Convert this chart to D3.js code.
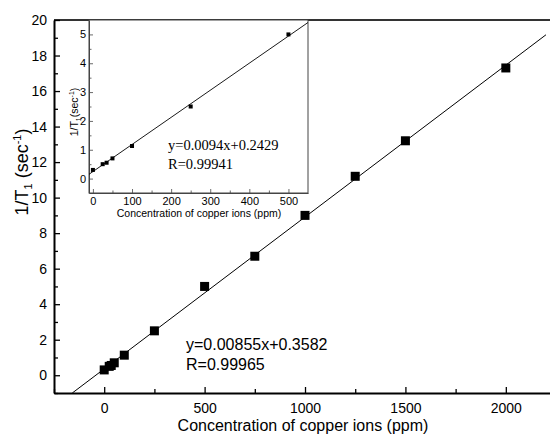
<!DOCTYPE html>
<html><head><meta charset="utf-8">
<script src="https://cdn.jsdelivr.net/npm/d3@7"></script>
<style>body{margin:0;background:#fff}svg{display:block}</style>
</head><body><svg id="c" width="550" height="440"></svg>
<script>
// main data
const mainX = [0, 25, 35, 50, 100, 250, 500, 750, 1000, 1250, 1500, 2000];
const mainY = [0.3, 0.5, 0.55, 0.7, 1.13, 2.5, 5.0, 6.7, 9.0, 11.2, 13.2, 17.3];
const mainFit = [0.00855, 0.3582];
const mainFitX = [-159, 2200];
const mainXTicks = [0, 500, 1000, 1500, 2000];
const mainYTicks = [0, 2, 4, 6, 8, 10, 12, 14, 16, 18, 20];
// inset data
const insetX = [0, 25, 35, 50, 100, 250, 500];
const insetY = [0.3, 0.5, 0.55, 0.7, 1.13, 2.5, 5.0];
const insetFit = [0.0094, 0.2429];
const insetFitX = [-10, 550];
const insetXTicks = [0, 100, 200, 300, 400, 500];
const insetYTicks = [0, 1, 2, 3, 4, 5];

const svg = d3.select("#c");
const SANS = "'Liberation Sans', Arial, sans-serif";
const SERIF = "'Liberation Serif', 'Times New Roman', serif";
const fmt = d3.format("d");

// ---------- main ----------
const x = d3.scaleLinear().domain([-250, 2220]).range([54, 550]);
const y = d3.scaleLinear().domain([-1, 20]).range([393, 20]);

const g = svg.append("g");
g.append("line").attr("x1", 54).attr("x2", 550).attr("y1", 20).attr("y2", 20)
  .attr("stroke", "#333").attr("stroke-width", 2);

const xAxis = g.append("g").attr("transform", "translate(0,393)")
  .call(d3.axisBottom(x).tickValues(mainXTicks).tickFormat(fmt).tickSize(-6).tickPadding(10).tickSizeOuter(0));
const xMinor = g.append("g").attr("transform", "translate(0,393)")
  .call(d3.axisBottom(x).tickValues(d3.range(-250, 2201, 250).filter(v => !mainXTicks.includes(v))).tickSize(-4).tickFormat(""));
xMinor.select(".domain").remove();
const yAxis = g.append("g").attr("transform", "translate(54,0)")
  .call(d3.axisLeft(y).tickValues(mainYTicks).tickFormat(fmt).tickSize(-6).tickPadding(7).tickSizeOuter(0));
const yMinor = g.append("g").attr("transform", "translate(54,0)")
  .call(d3.axisLeft(y).tickValues(d3.range(-1, 20, 2)).tickSize(-4).tickFormat(""));
yMinor.select(".domain").remove();
[xAxis, yAxis].forEach(a => {
  a.select(".domain").attr("stroke", "#000").attr("stroke-width", 2);
  a.selectAll(".tick line").attr("stroke", "#000").attr("stroke-width", 1.3);
  a.selectAll("text").attr("font-family", SANS).attr("font-size", 14).attr("fill", "#000");
});
[xMinor, yMinor].forEach(a => a.selectAll(".tick line").attr("stroke", "#000").attr("stroke-width", 1.3));

g.append("line")
  .attr("x1", x(mainFitX[0])).attr("y1", y(mainFit[0] * mainFitX[0] + mainFit[1]))
  .attr("x2", x(mainFitX[1])).attr("y2", y(mainFit[0] * mainFitX[1] + mainFit[1]))
  .attr("stroke", "#000").attr("stroke-width", 1);
const ms = 9;
g.selectAll("rect.m").data(mainX.map((v, i) => [v, mainY[i]])).join("rect")
  .attr("x", d => x(d[0]) - ms / 2).attr("y", d => y(d[1]) - ms / 2)
  .attr("width", ms).attr("height", ms).attr("fill", "#000");

g.append("text").attr("x", 303).attr("y", 431).attr("text-anchor", "middle")
  .attr("font-family", SANS).attr("font-size", 16).text("Concentration of copper ions (ppm)");
const yl = g.append("text").attr("transform", "translate(28,172) rotate(-90)")
  .attr("text-anchor", "middle").attr("font-family", SANS).attr("font-size", 18);
yl.append("tspan").text("1/T");
yl.append("tspan").attr("font-size", 11).attr("dy", 4).text("1");
yl.append("tspan").attr("dy", -4).text(" (sec");
yl.append("tspan").attr("font-size", 11).attr("dy", -7).text("-1");
yl.append("tspan").attr("dy", 7).text(")");

g.append("text").attr("x", 186).attr("y", 350).attr("font-family", SANS).attr("font-size", 16)
  .text("y=" + mainFit[0] + "x+" + mainFit[1]);
g.append("text").attr("x", 186).attr("y", 370).attr("font-family", SANS).attr("font-size", 16)
  .text("R=0.99965");

// ---------- inset ----------
const ix = d3.scaleLinear().domain([-10, 550]).range([89, 308]);
const iy = d3.scaleLinear().domain([-0.5, 5.5]).range([193, 20]);
const ig = svg.append("g");
ig.append("rect").attr("x", 89).attr("y", 20).attr("width", 219).attr("height", 173)
  .attr("fill", "#fff").attr("stroke", "#444").attr("stroke-width", 1);
const ixA = ig.append("g").attr("transform", "translate(0,193)")
  .call(d3.axisBottom(ix).tickValues(insetXTicks).tickFormat(fmt).tickSize(-4).tickPadding(4).tickSizeOuter(0));
const ixM = ig.append("g").attr("transform", "translate(0,193)")
  .call(d3.axisBottom(ix).tickValues(d3.range(50, 550, 100)).tickSize(-2.5).tickFormat(""));
ixM.select(".domain").remove();
const iyA = ig.append("g").attr("transform", "translate(89,0)")
  .call(d3.axisLeft(iy).tickValues(insetYTicks).tickFormat(fmt).tickSize(-4).tickPadding(3).tickSizeOuter(0));
const iyM = ig.append("g").attr("transform", "translate(89,0)")
  .call(d3.axisLeft(iy).tickValues(d3.range(0.5, 5.5, 1)).tickSize(-2.5).tickFormat(""));
iyM.select(".domain").remove();
[ixA, iyA].forEach(a => {
  a.select(".domain").attr("stroke", "#444").attr("stroke-width", 1);
  a.selectAll(".tick line").attr("stroke", "#444").attr("stroke-width", 0.8);
  a.selectAll("text").attr("font-family", SANS).attr("font-size", 11).attr("fill", "#000");
});
[ixM, iyM].forEach(a => a.selectAll(".tick line").attr("stroke", "#444").attr("stroke-width", 0.8));

ig.append("line")
  .attr("x1", ix(insetFitX[0])).attr("y1", iy(insetFit[0] * insetFitX[0] + insetFit[1]))
  .attr("x2", ix(insetFitX[1])).attr("y2", iy(insetFit[0] * insetFitX[1] + insetFit[1]))
  .attr("stroke", "#000").attr("stroke-width", 0.9);
const ims = 4;
ig.selectAll("rect.im").data(insetX.map((v, i) => [v, insetY[i]])).join("rect")
  .attr("x", d => ix(d[0]) - ims / 2).attr("y", d => iy(d[1]) - ims / 2)
  .attr("width", ims).attr("height", ims).attr("fill", "#000");

ig.append("text").attr("x", 199).attr("y", 217).attr("text-anchor", "middle")
  .attr("font-family", SANS).attr("font-size", 10.5).text("Concentration of copper ions (ppm)");
const iyl = ig.append("text").attr("transform", "translate(78,112) rotate(-90)")
  .attr("text-anchor", "middle").attr("font-family", SANS).attr("font-size", 10.5);
iyl.append("tspan").text("1/T");
iyl.append("tspan").attr("font-size", 7).attr("dy", 2.5).text("1");
iyl.append("tspan").attr("dy", -2.5).text("(sec");
iyl.append("tspan").attr("font-size", 7).attr("dy", -4).text("-1");
iyl.append("tspan").attr("dy", 4).text(")");

ig.append("text").attr("x", 168).attr("y", 150).attr("font-family", SERIF).attr("font-size", 14.5)
  .text("y=" + insetFit[0] + "x+" + insetFit[1]);
ig.append("text").attr("x", 168).attr("y", 169).attr("font-family", SERIF).attr("font-size", 14.5)
  .text("R=0.99941");
</script></body></html>
